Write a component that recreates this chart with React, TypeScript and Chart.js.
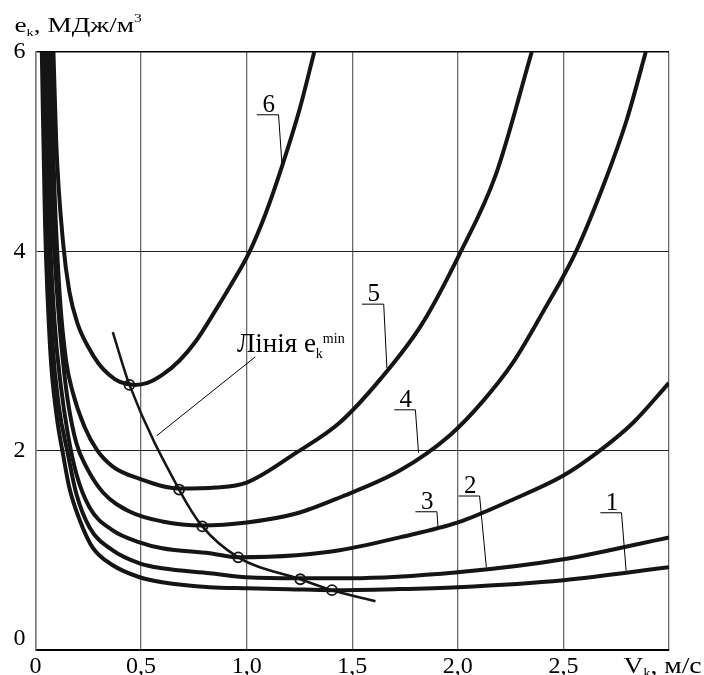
import React, { useEffect, useRef } from 'react';
import { Chart, registerables } from 'chart.js';

Chart.register(...registerables);

const SERIF = '"Liberation Serif", "Times New Roman", serif';

// Axis ticks
const xTicks = [0, 0.5, 1.0, 1.5, 2.0, 2.5, 3.0];
const xTickLabels = ['0', '0,5', '1,0', '1,5', '2,0', '2,5', ''];
const yTicks = [0, 2, 4, 6];

// Curve 1
const c1X = [0.03, 0.045, 0.07, 0.1, 0.13, 0.16, 0.21, 0.27, 0.366, 0.493, 0.6, 0.825, 1.0, 1.2, 1.404, 1.7, 2.0, 2.5, 3.0];
const c1Y = [6.0, 4.3, 3.0, 2.35, 1.97, 1.63, 1.3, 1.03, 0.85, 0.73, 0.68, 0.63, 0.62, 0.61, 0.6, 0.61, 0.63, 0.7, 0.83];
// Curve 2
const c2X = [0.04, 0.055, 0.08, 0.11, 0.153, 0.193, 0.256, 0.366, 0.493, 0.6, 0.825, 1.0, 1.254, 1.49, 2.0, 2.5, 3.0];
const c2Y = [6.0, 4.3, 3.1, 2.45, 1.97, 1.57, 1.23, 1.0, 0.87, 0.82, 0.77, 0.73, 0.72, 0.72, 0.78, 0.91, 1.13];
// Curve 3
const c3X = [0.05, 0.065, 0.09, 0.12, 0.153, 0.193, 0.256, 0.366, 0.493, 0.6, 0.825, 0.96, 1.235, 1.44, 1.725, 2.0, 2.25, 2.5, 2.66, 2.83, 3.0];
const c3Y = [6.0, 4.4, 3.3, 2.65, 2.17, 1.77, 1.43, 1.2, 1.08, 1.02, 0.97, 0.93, 0.95, 1.0, 1.13, 1.28, 1.5, 1.75, 1.98, 2.28, 2.68];
// Curve 4
const c4X = [0.06, 0.08, 0.105, 0.13, 0.153, 0.193, 0.24, 0.32, 0.445, 0.6, 0.79, 1.0, 1.235, 1.44, 1.725, 1.96, 2.12, 2.26, 2.4, 2.56, 2.7, 2.8, 2.89];
const c4Y = [6.0, 4.4, 3.5, 2.9, 2.5, 2.08, 1.84, 1.58, 1.39, 1.29, 1.25, 1.28, 1.37, 1.53, 1.8, 2.15, 2.5, 2.88, 3.38, 4.0, 4.72, 5.32, 6.0];
// Curve 5
const c5X = [0.07, 0.09, 0.115, 0.145, 0.177, 0.232, 0.29, 0.366, 0.49, 0.68, 0.856, 1.0, 1.235, 1.44, 1.63, 1.83, 2.01, 2.18, 2.35];
const c5Y = [6.0, 4.6, 3.55, 2.9, 2.58, 2.24, 2.01, 1.84, 1.72, 1.62, 1.63, 1.68, 1.98, 2.28, 2.71, 3.27, 3.98, 4.77, 6.0];
// Curve 6
const c6X = [0.085, 0.098, 0.13, 0.16, 0.2, 0.25, 0.3, 0.35, 0.4, 0.47, 0.53, 0.6, 0.68, 0.76, 0.856, 0.93, 1.01, 1.09, 1.17, 1.25, 1.32];
const c6Y = [6.0, 5.1, 4.1, 3.6, 3.27, 3.04, 2.87, 2.76, 2.69, 2.66, 2.68, 2.76, 2.9, 3.1, 3.42, 3.68, 3.98, 4.38, 4.87, 5.42, 6.0];
// Line of minima e_k^min
const minX = [0.366, 0.445, 0.68, 0.79, 0.96, 1.254, 1.404, 1.61];
const minY = [3.19, 2.66, 1.61, 1.24, 0.93, 0.71, 0.6, 0.49];
const minMarked = [false, true, true, true, true, true, true, false];

// Curve number callouts (data coordinates)
const calloutText = ['6', '5', '4', '3', '2', '1'];
const calloutUX0 = [1.048, 1.546, 1.699, 1.799, 2.004, 2.675];
const calloutUX1 = [1.151, 1.649, 1.799, 1.901, 2.103, 2.775];
const calloutUY = [5.37, 3.47, 2.41, 1.387, 1.545, 1.377];
const calloutEX = [1.167, 1.664, 1.814, 1.906, 2.135, 2.797];
const calloutEY = [4.88, 2.83, 1.98, 1.237, 0.83, 0.795];

const zip = (xs: number[], ys: number[]) => xs.map((x, i) => ({ x, y: ys[i] }));

type Part = { t: string; size: number; dy: number };

function drawRich(ctx: CanvasRenderingContext2D, x: number, base: number, parts: Part[], sx = 1) {
  ctx.save();
  ctx.translate(x, base);
  ctx.scale(sx, 1);
  let cx = 0;
  ctx.textAlign = 'left';
  ctx.textBaseline = 'alphabetic';
  for (const p of parts) {
    ctx.font = `${p.size}px ${SERIF}`;
    ctx.fillText(p.t, cx, p.dy);
    cx += ctx.measureText(p.t).width;
  }
  ctx.restore();
}

const annotPlugin = {
  id: 'annot',
  afterDraw(chart: any) {
    const { ctx, scales, chartArea } = chart;
    const sx = scales.x;
    const sy = scales.y;
    ctx.save();
    ctx.fillStyle = '#000';
    ctx.strokeStyle = '#000';
    ctx.lineWidth = 1;
    // numbered callouts
    for (let i = 0; i < calloutText.length; i++) {
      const x0 = sx.getPixelForValue(calloutUX0[i]);
      const x1 = sx.getPixelForValue(calloutUX1[i]);
      const uy = sy.getPixelForValue(calloutUY[i]);
      const ex = sx.getPixelForValue(calloutEX[i]);
      const ey = sy.getPixelForValue(calloutEY[i]);
      ctx.beginPath();
      ctx.moveTo(x0, uy);
      ctx.lineTo(x1, uy);
      ctx.lineTo(ex, ey);
      ctx.stroke();
      ctx.font = `25px ${SERIF}`;
      ctx.textAlign = 'center';
      ctx.textBaseline = 'alphabetic';
      ctx.fillText(calloutText[i], (x0 + x1) / 2 + 1, uy - 3);
    }
    // "Лінія e_k^min" label with leader
    const lx = sx.getPixelForValue(0.954);
    const lb = sy.getPixelForValue(2.99);
    drawRich(ctx, lx, lb, [
      { t: 'Лінія e', size: 27, dy: 0 },
      { t: 'k', size: 14, dy: 6 },
      { t: 'min', size: 14, dy: -9 },
    ]);
    ctx.beginPath();
    ctx.moveTo(sx.getPixelForValue(1.04), sy.getPixelForValue(2.94));
    ctx.lineTo(sx.getPixelForValue(0.574), sy.getPixelForValue(2.15));
    ctx.stroke();
    // y-axis "0" label, raised above the x axis
    ctx.font = `24px ${SERIF}`;
    ctx.textAlign = 'right';
    ctx.textBaseline = 'alphabetic';
    ctx.fillText('0', chartArea.left - 10, sy.getPixelForValue(0) - 5);
    // axis titles
    drawRich(ctx, chartArea.left - 21, chartArea.top - 20, [
      { t: 'e', size: 21, dy: 0 },
      { t: 'k', size: 11, dy: 4 },
      { t: ', МДж/м', size: 21, dy: 0 },
      { t: '3', size: 12, dy: -10 },
    ], 1.3);
    drawRich(ctx, sx.getPixelForValue(2.785), chartArea.bottom + 23, [
      { t: 'V', size: 24, dy: 0 },
      { t: 'k', size: 12, dy: 4 },
      { t: ', м/с', size: 24, dy: 0 },
    ], 1.15);
    ctx.restore();
  },
};

export default function App() {
  const ref = useRef<HTMLCanvasElement | null>(null);
  useEffect(() => {
    if (!ref.current) return;
    const curve = (xs: number[], ys: number[]) => ({
      data: zip(xs, ys),
      borderColor: '#151515',
      borderWidth: 4,
      pointRadius: 0,
      cubicInterpolationMode: 'monotone' as const,
      fill: false,
    });
    const chart = new Chart(ref.current, {
      type: 'line',
      data: {
        datasets: [
          {
            data: zip(minX, minY),
            borderColor: '#151515',
            borderWidth: 2.5,
            cubicInterpolationMode: 'monotone',
            pointRadius: minMarked.map((m) => (m ? 5 : 0)),
            pointBorderWidth: 1.8,
            pointBorderColor: '#151515',
            pointBackgroundColor: 'rgba(255,255,255,0)',
            fill: false,
          } as any,
          curve(c6X, c6Y),
          curve(c5X, c5Y),
          curve(c4X, c4Y),
          curve(c3X, c3Y),
          curve(c2X, c2Y),
          curve(c1X, c1Y),
        ],
      },
      options: {
        animation: false,
        responsive: true,
        maintainAspectRatio: false,
        layout: { padding: { top: 52, right: 35, left: 0, bottom: 0 } },
        plugins: { legend: { display: false }, tooltip: { enabled: false } },
        scales: {
          x: {
            type: 'linear',
            min: 0,
            max: 3,
            afterBuildTicks: (s: any) => {
              s.ticks = xTicks.map((v) => ({ value: v }));
            },
            afterFit: (s: any) => {
              s.height = 25;
            },
            ticks: {
              autoSkip: false,
              maxRotation: 0,
              padding: 2,
              color: '#000',
              font: { family: SERIF, size: 24 },
              callback: (v: any) => xTickLabels[xTicks.indexOf(Number(v))] ?? '',
            },
            grid: { color: '#6a6a6a', lineWidth: 1.3, drawTicks: false },
            border: { display: true, color: '#000', width: 2 },
          },
          y: {
            type: 'linear',
            min: 0,
            max: 6,
            afterBuildTicks: (s: any) => {
              s.ticks = yTicks.map((v) => ({ value: v }));
            },
            afterFit: (s: any) => {
              s.width = 35.5;
            },
            ticks: {
              padding: 10,
              color: '#000',
              font: { family: SERIF, size: 24 },
              callback: (v: any) => (Number(v) === 0 ? '' : String(v)),
            },
            grid: {
              color: (c: any) => (c.tick && c.tick.value === 6 ? '#000' : '#222'),
              lineWidth: (c: any) => (c.tick && c.tick.value === 6 ? 1.6 : 1),
              drawTicks: false,
            },
            border: { display: true, color: '#7a7a7a', width: 1.5 },
          },
        },
      },
      plugins: [annotPlugin],
    });
    return () => chart.destroy();
  }, []);
  return (
    <div style={{ position: 'fixed', left: 0, top: 0, width: 704, height: 675, background: '#fff' }}>
      <canvas ref={ref} />
    </div>
  );
}
